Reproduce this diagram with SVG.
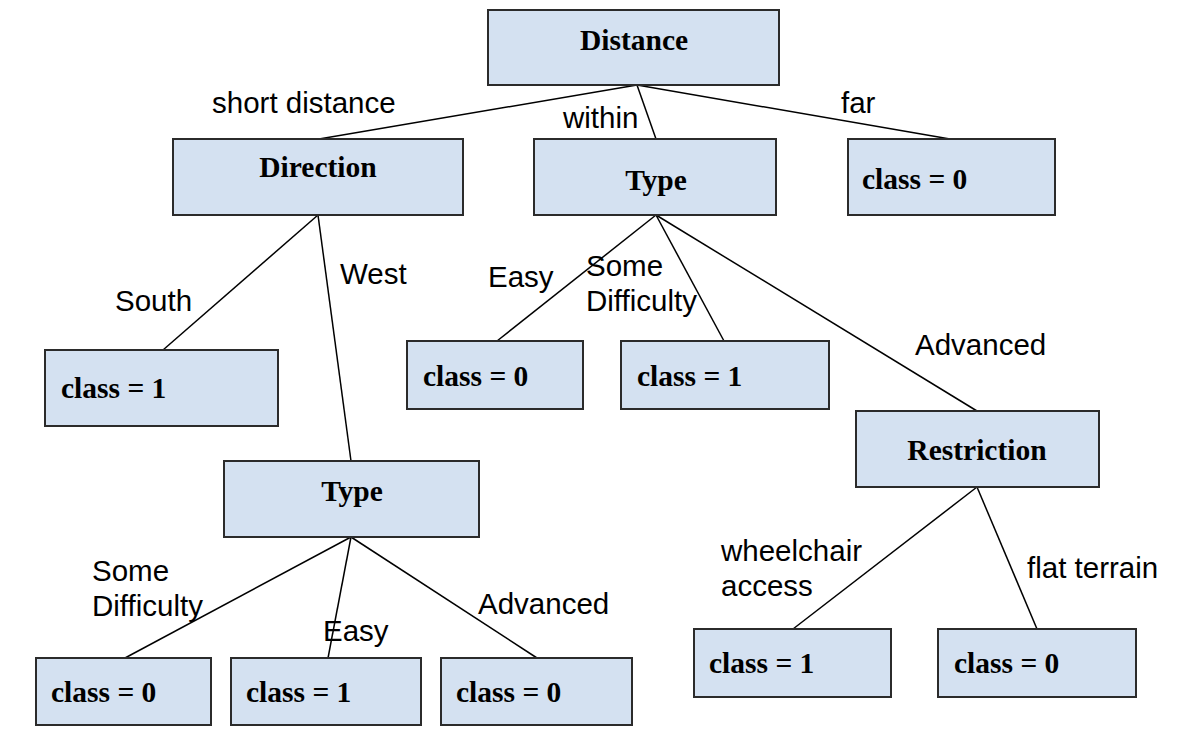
<svg xmlns="http://www.w3.org/2000/svg" width="1194" height="738" viewBox="0 0 1194 738">
<style>
.box{fill:#d4e1f1;stroke:#2b2b2b;stroke-width:2}
.t{font-family:"Liberation Serif","Times New Roman",serif;font-weight:bold;font-size:29.5px;fill:#000}
.c{text-anchor:middle}
.lbl{font-family:"Liberation Sans",Arial,sans-serif;font-size:29.5px;fill:#000}
.edge{stroke:#000;stroke-width:1.5;fill:none}
</style>
<rect width="1194" height="738" fill="#fff"/>
<g id="connectors">
<line class="edge" x1="637" y1="85" x2="319" y2="139"/>
<line class="edge" x1="637" y1="85" x2="656" y2="139"/>
<line class="edge" x1="637" y1="85" x2="950" y2="139"/>
<line class="edge" x1="318" y1="215" x2="163" y2="350"/>
<line class="edge" x1="318" y1="215" x2="351" y2="461"/>
<line class="edge" x1="656" y1="215" x2="497" y2="341"/>
<line class="edge" x1="656" y1="215" x2="724" y2="341"/>
<line class="edge" x1="656" y1="215" x2="977" y2="411"/>
<line class="edge" x1="977" y1="487" x2="793" y2="629"/>
<line class="edge" x1="977" y1="487" x2="1037" y2="629"/>
<line class="edge" x1="351" y1="537" x2="125" y2="658"/>
<line class="edge" x1="351" y1="537" x2="328" y2="658"/>
<line class="edge" x1="351" y1="537" x2="537" y2="658"/>
<text class="lbl" x="212" y="113">short distance</text>
<text class="lbl" x="563" y="128">within</text>
<text class="lbl" x="841" y="113">far</text>
<text class="lbl" x="115" y="311">South</text>
<text class="lbl" x="340" y="284">West</text>
<text class="lbl" x="488" y="287">Easy</text>
<text class="lbl" x="586" y="276">Some</text>
<text class="lbl" x="586" y="311">Difficulty</text>
<text class="lbl" x="915" y="355">Advanced</text>
<text class="lbl" x="92" y="581">Some</text>
<text class="lbl" x="92" y="616">Difficulty</text>
<text class="lbl" x="323" y="641">Easy</text>
<text class="lbl" x="478" y="614">Advanced</text>
<text class="lbl" x="721" y="561">wheelchair</text>
<text class="lbl" x="721" y="596">access</text>
<text class="lbl" x="1027" y="578">flat terrain</text>
</g>
<g id="n-distance"><rect class="box" x="488" y="10" width="291" height="75"/><text class="t c" x="634" y="50">Distance</text></g>
<g id="n-direction"><rect class="box" x="173" y="139" width="290" height="76"/><text class="t c" x="318" y="177">Direction</text></g>
<g id="n-type1"><rect class="box" x="534" y="139" width="242" height="76"/><text class="t c" x="656" y="190">Type</text></g>
<g id="n-far"><rect class="box" x="848" y="139" width="207" height="76"/><text class="t" x="862" y="189">class = 0</text></g>
<g id="n-south"><rect class="box" x="45" y="350" width="233" height="76"/><text class="t" x="61" y="398">class = 1</text></g>
<g id="n-easy1"><rect class="box" x="407" y="341" width="176" height="68"/><text class="t" x="423" y="386">class = 0</text></g>
<g id="n-some1"><rect class="box" x="621" y="341" width="208" height="68"/><text class="t" x="637" y="386">class = 1</text></g>
<g id="n-restriction"><rect class="box" x="856" y="411" width="243" height="76"/><text class="t c" x="977" y="460">Restriction</text></g>
<g id="n-type2"><rect class="box" x="224" y="461" width="255" height="76"/><text class="t c" x="352" y="501">Type</text></g>
<g id="n-some2"><rect class="box" x="36" y="658" width="175" height="67"/><text class="t" x="51" y="702">class = 0</text></g>
<g id="n-easy2"><rect class="box" x="231" y="658" width="190" height="67"/><text class="t" x="246" y="702">class = 1</text></g>
<g id="n-adv2"><rect class="box" x="441" y="658" width="191" height="67"/><text class="t" x="456" y="702">class = 0</text></g>
<g id="n-wheel"><rect class="box" x="694" y="629" width="197" height="68"/><text class="t" x="709" y="673">class = 1</text></g>
<g id="n-flat"><rect class="box" x="938" y="629" width="198" height="68"/><text class="t" x="954" y="673">class = 0</text></g>
</svg>
